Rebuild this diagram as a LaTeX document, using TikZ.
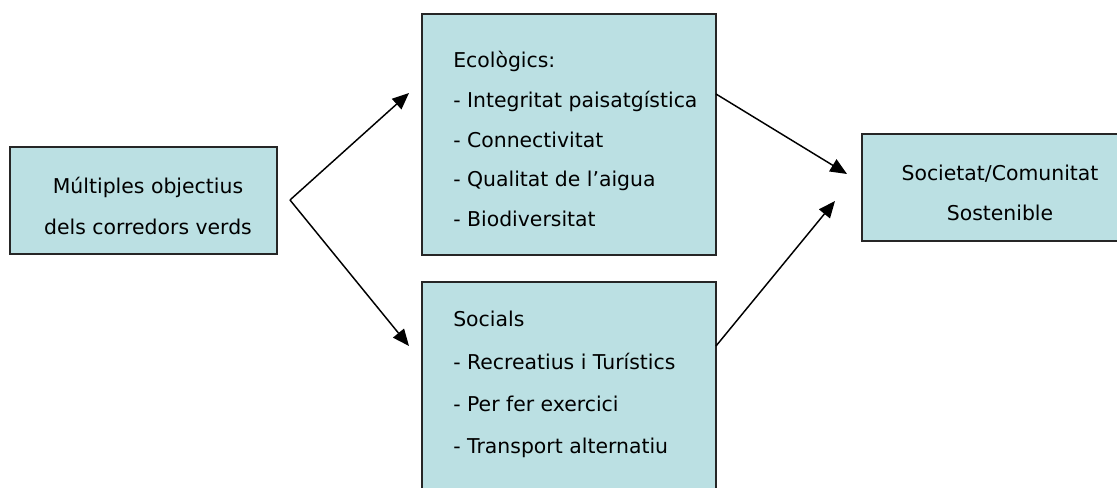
\documentclass[tikz,border=0pt]{standalone}
\usepackage{fontspec}
\setmainfont{DejaVu Sans}
\usetikzlibrary{arrows.meta}
\definecolor{boxfill}{RGB}{187,224,227}
\tikzset{
  box/.style={draw=black!85, fill=boxfill, line width=1pt, inner sep=0pt},
  txt/.style={inner sep=0pt, font=\fontsize{15.3}{18}\selectfont},
  arr/.style={-{Triangle[length=12.5pt,width=10.5pt]}, line width=1.1pt}
}
\begin{document}
\begin{tikzpicture}[x=0.75pt,y=-0.75pt]
			\useasboundingbox (0,0) rectangle (1117,488);
			% boxes
			\node[box, minimum width=200.25pt, minimum height=80.25pt] (goal) at (143.5,200.5) {};
			\node[box, minimum width=220.5pt, minimum height=180.75pt] (eco) at (569,134.5) {};
			\node[box, minimum width=220.5pt, minimum height=162pt] (soc) at (569,390) {};
			\node[box, minimum width=208.5pt, minimum height=80.25pt] (sost) at (1001,187.5) {};
			% texts
			\node[txt, anchor=base] (goal1) at (148,194) {Múltiples objectius};
			\node[txt, anchor=base] (goal2) at (148,235) {dels corredors verds};
			\foreach \t [count=\i] in {Ecològics:, - Integritat paisatgística, - Connectivitat, - Qualitat de l’aigua, - Biodiversitat}
				\node[txt, anchor=base west] (eco\i) at (453,{28.4+39.6*\i}) {\t};
			\foreach \t [count=\i] in {Socials, - Recreatius i Turístics, - Per fer exercici, - Transport alternatiu}
				\node[txt, anchor=base west] (soc\i) at (453,{284.3+42.4*\i}) {\t};
			\node[txt, anchor=base] (sost1) at (1000,181) {Societat/Comunitat};
			\node[txt, anchor=base] (sost2) at (1000,221) {Sostenible};
			% arrows
			\coordinate (split) at (290,200);
			\coordinate (ecoin) at (409,93);
			\coordinate (socin) at (409,346);
			\coordinate (ecoout) at (716,94);
			\coordinate (socout) at (716,346);
			\coordinate (sostina) at (847,174);
			\coordinate (sostinb) at (835,201);
			\draw[arr] (split) -- (ecoin);
			\draw[arr] (split) -- (socin);
			\draw[arr] (ecoout) -- (sostina);
			\draw[arr] (socout) -- (sostinb);
		\end{tikzpicture}
\end{document}
